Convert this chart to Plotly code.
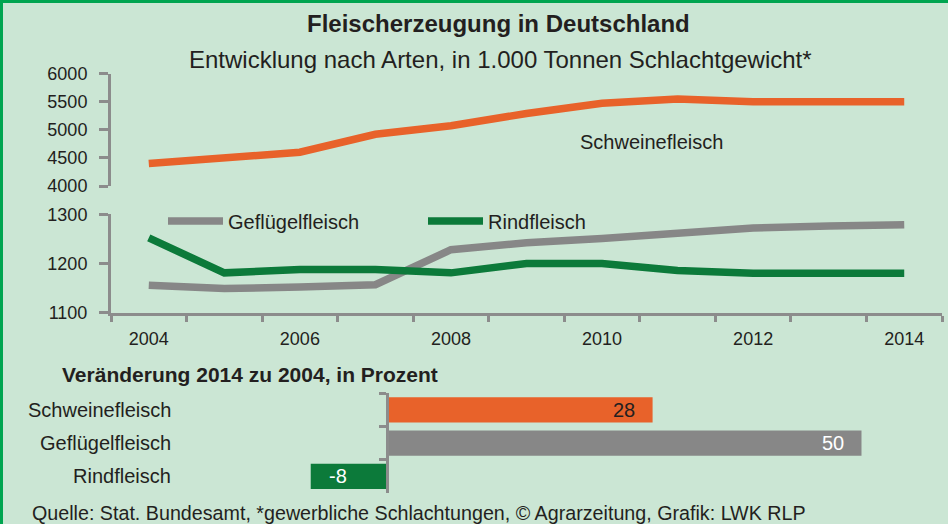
import plotly.graph_objects as go

# ---------------- data ----------------
years = [2004, 2005, 2006, 2007, 2008, 2009, 2010, 2011, 2012, 2013, 2014]
schwein = [4400, 4500, 4600, 4920, 5070, 5290, 5470, 5545, 5500, 5500, 5500]
gefluegel = [1156, 1149, 1152, 1157, 1228, 1242, 1251, 1262, 1272, 1276, 1279]
rind = [1252, 1181, 1188, 1188, 1181, 1200, 1200, 1186, 1180, 1180, 1180]

year_ticks = [2004, 2006, 2008, 2010, 2012, 2014]
upper_ticks = [4000, 4500, 5000, 5500, 6000]
lower_ticks = [1100, 1200, 1300]

bar_cats = ["Schweinefleisch", "Geflügelfleisch", "Rindfleisch"]
bar_vals = [28, 50, -8]

title = "Fleischerzeugung in Deutschland"
subtitle = "Entwicklung nach Arten, in 1.000 Tonnen Schlachtgewicht*"
bar_title = "Veränderung 2014 zu 2004, in Prozent"
source = "Quelle: Stat. Bundesamt, *gewerbliche Schlachtungen, © Agrarzeitung, Grafik: LWK RLP"

# ---------------- style ----------------
W, H = 948, 524
BG = "#CBE6D4"
BORDER = "#00A550"
ORANGE = "#E8622A"
GRAY = "#878787"
GREEN = "#0C7A3A"
AXIS = "#8C8C8C"
TXT = "#231F20"
FONT = "Liberation Sans, Arial, sans-serif"

def px_x(p):
    return p / W

def px_y(p):
    return 1 - p / H

x_dom = [px_x(111), px_x(942)]
up_dom = [px_y(186), px_y(73.5)]
lo_dom = [px_y(312.7), px_y(214.3)]
bar_dom = [px_y(493), px_y(393.3)]
zero_px = 386.7
scale = 9.496
bar_xdom = [px_x(300), px_x(942)]
bar_xrange = [(300 - zero_px) / scale, (942 - zero_px) / scale]

fig = go.Figure()

fig.add_trace(go.Scatter(x=years, y=schwein, mode="lines", name="Schweinefleisch",
                         line=dict(color=ORANGE, width=7.5), showlegend=False,
                         xaxis="x2", yaxis="y2"))
fig.add_trace(go.Scatter(x=years, y=gefluegel, mode="lines", name="Geflügelfleisch",
                         line=dict(color=GRAY, width=7.5), xaxis="x", yaxis="y"))
fig.add_trace(go.Scatter(x=years, y=rind, mode="lines", name="Rindfleisch",
                         line=dict(color=GREEN, width=7.5), xaxis="x", yaxis="y"))

fig.add_trace(go.Bar(y=bar_cats, x=bar_vals, orientation="h",
                     marker=dict(color=[ORANGE, GRAY, GREEN], line=dict(width=0)),
                     showlegend=False, xaxis="x3", yaxis="y3", width=0.76))

xr = [years[0] - 0.5, years[-1] + 0.5]
boundaries = [y - 0.5 for y in years] + [years[-1] + 0.5]

fig.update_layout(
    width=W, height=H,
    margin=dict(l=0, r=0, t=0, b=0),
    paper_bgcolor=BG, plot_bgcolor="rgba(0,0,0,0)",
    font=dict(family=FONT, color=TXT, size=18),
    xaxis=dict(domain=x_dom, range=xr, anchor="y",
               tickvals=year_ticks, ticktext=[str(v) for v in year_ticks],
               ticks="", showgrid=False, zeroline=False,
               showline=True, linecolor=AXIS, linewidth=3,
               tickfont=dict(size=18, color=TXT), ticklabelstandoff=8,
               minor=dict(tickvals=boundaries, ticks="outside", ticklen=6,
                          tickwidth=3, tickcolor=AXIS, showgrid=False),
               automargin=False),
    yaxis=dict(domain=lo_dom, range=[1100, 1300], anchor="x",
               tickvals=lower_ticks, ticks="outside", ticklen=9, tickwidth=3,
               tickcolor=AXIS, showline=True, linecolor=AXIS, linewidth=3,
               showgrid=False, zeroline=False, tickfont=dict(size=18, color=TXT),
               ticklabelstandoff=8, automargin=False),
    xaxis2=dict(domain=x_dom, range=xr, anchor="y2", visible=False),
    yaxis2=dict(domain=up_dom, range=[4000, 6000], anchor="x2",
                tickvals=upper_ticks, ticks="outside", ticklen=9, tickwidth=3,
                tickcolor=AXIS, showline=True, linecolor=AXIS, linewidth=3,
                showgrid=False, zeroline=False, tickfont=dict(size=18, color=TXT),
                ticklabelstandoff=8, automargin=False),
    xaxis3=dict(domain=bar_xdom, range=bar_xrange, anchor="y3", visible=False),
    yaxis3=dict(domain=bar_dom, anchor="free", position=px_x(zero_px),
                type="category", autorange="reversed",
                tickson="boundaries", ticks="outside", ticklen=7, tickwidth=3,
                tickcolor=AXIS, showline=True, linecolor=AXIS, linewidth=3,
                showticklabels=False, showgrid=False, zeroline=False,
                automargin=False),
    bargap=0.24,
    legend=dict(orientation="h", x=px_x(163), y=px_y(221), xanchor="left",
                yanchor="middle", bgcolor="rgba(0,0,0,0)",
                font=dict(size=20, color=TXT), entrywidth=190,
                entrywidthmode="pixels", itemwidth=55),
    showlegend=True,
)

ann = []
ann.append(dict(text="<b>" + title + "</b>", x=px_x(499), y=px_y(24), xref="paper", yref="paper",
                showarrow=False, font=dict(size=24, color=TXT), xanchor="center", yanchor="middle"))
ann.append(dict(text=subtitle, x=px_x(500), y=px_y(60), xref="paper", yref="paper",
                showarrow=False, font=dict(size=24, color=TXT), xanchor="center", yanchor="middle"))
ann.append(dict(text="Schweinefleisch", x=px_x(651), y=px_y(142), xref="paper", yref="paper",
                showarrow=False, font=dict(size=20, color=TXT), xanchor="center", yanchor="middle"))
ann.append(dict(text="<b>" + bar_title + "</b>", x=px_x(60), y=px_y(374), xref="paper", yref="paper",
                showarrow=False, font=dict(size=21, color=TXT), xanchor="left", yanchor="middle"))
ann.append(dict(text=source, x=px_x(30), y=px_y(513), xref="paper", yref="paper",
                showarrow=False, font=dict(size=19.7, color=TXT), xanchor="left", yanchor="middle"))
for c, v in zip(bar_cats, bar_vals):
    ann.append(dict(text=c, x=px_x(173), y=c, xref="paper", yref="y3", showarrow=False,
                    font=dict(size=20, color=TXT), xanchor="right", yanchor="middle"))
    col = TXT if v == 28 else "white"
    if v >= 0:
        ann.append(dict(text=str(v), x=v, y=c, xref="x3", yref="y3", showarrow=False,
                        font=dict(size=20, color=col), xanchor="right", yanchor="middle", xshift=-16))
    else:
        ann.append(dict(text=str(v), x=v, y=c, xref="x3", yref="y3", showarrow=False,
                        font=dict(size=20, color=col), xanchor="left", yanchor="middle", xshift=16))
fig.update_layout(annotations=ann)

fig.update_layout(shapes=[
    dict(type="rect", xref="paper", yref="paper", x0=0, x1=1, y0=px_y(3), y1=1,
         fillcolor=BORDER, line=dict(width=0), layer="above"),
    dict(type="rect", xref="paper", yref="paper", x0=0, x1=px_x(3), y0=0, y1=1,
         fillcolor=BORDER, line=dict(width=0), layer="above"),
])

fig.write_html("out.html", config={"displayModeBar": False},
               post_script="document.body.style.margin='0';document.body.style.padding='0';"
                           "document.body.style.overflow='hidden';")
